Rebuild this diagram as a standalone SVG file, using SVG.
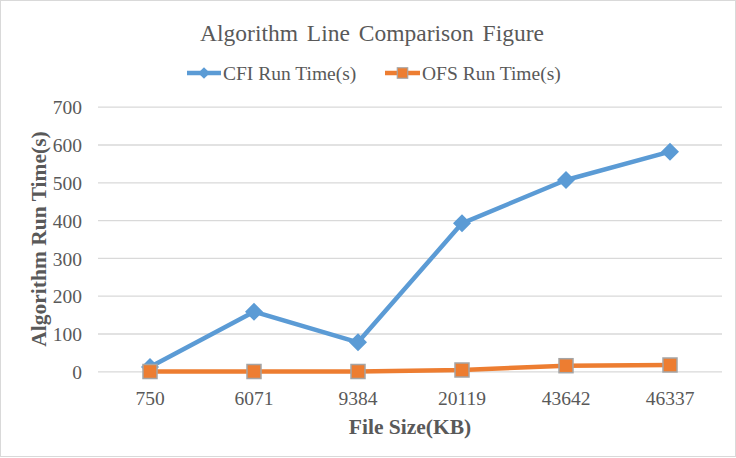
<svg xmlns="http://www.w3.org/2000/svg" width="736" height="458" viewBox="0 0 736 458">
<style>
.t{font-family:"Liberation Serif","Times New Roman",serif;fill:#595959}
.tick{font-size:19.5px}
.grid{stroke:#d9d9d9;stroke-width:1.3}
.cfi{fill:none;stroke:#5b9bd5;stroke-width:4.5;stroke-linejoin:round}
.ofs{fill:none;stroke:#ed7d31;stroke-width:4.5;stroke-linejoin:round}
.dia{fill:#5b9bd5}
.sq{fill:#ed7d31;stroke:#a5a5a5;stroke-width:1.5}
</style>
<defs>
<polygon id="d" class="dia" points="0,-9 9,0 0,9 -9,0"/>
<rect id="s" class="sq" x="-7" y="-7" width="14" height="14"/>
</defs>
<rect x="0.5" y="0.5" width="735" height="456" fill="#fff" stroke="#d9d9d9"/>
<text class="t" x="372" y="41" font-size="23.5" text-anchor="middle" word-spacing="3">Algorithm Line Comparison Figure</text>
<g id="legend">
<line x1="187" y1="73" x2="221" y2="73" stroke="#5b9bd5" stroke-width="4.5"/>
<use href="#d" transform="translate(204,73) scale(0.65)"/>
<text class="t tick" x="223" y="80">CFI Run Time(s)</text>
<line x1="385" y1="73" x2="420" y2="73" stroke="#ed7d31" stroke-width="4.5"/>
<use href="#s" transform="translate(402.5,73) scale(0.75)"/>
<text class="t tick" x="422" y="80">OFS Run Time(s)</text>
</g>
<g id="grid">
<line class="grid" x1="98" y1="107.2" x2="722" y2="107.2"/>
<line class="grid" x1="98" y1="145" x2="722" y2="145"/>
<line class="grid" x1="98" y1="182.8" x2="722" y2="182.8"/>
<line class="grid" x1="98" y1="220.6" x2="722" y2="220.6"/>
<line class="grid" x1="98" y1="258.4" x2="722" y2="258.4"/>
<line class="grid" x1="98" y1="296.2" x2="722" y2="296.2"/>
<line class="grid" x1="98" y1="334" x2="722" y2="334"/>
<line class="grid" x1="98" y1="371.8" x2="722" y2="371.8"/>
</g>
<g id="yaxis" class="t tick" text-anchor="end">
<text x="82" y="114">700</text>
<text x="82" y="152">600</text>
<text x="82" y="190">500</text>
<text x="82" y="227.5">400</text>
<text x="82" y="265.5">300</text>
<text x="82" y="303">200</text>
<text x="82" y="341">100</text>
<text x="82" y="379">0</text>
</g>
<text class="t" font-size="21.5" font-weight="bold" text-anchor="middle" transform="translate(46,239) rotate(-90)">Algorithm Run Time(s)</text>
<g id="xaxis" class="t tick" text-anchor="middle">
<text x="150" y="405">750</text>
<text x="254" y="405">6071</text>
<text x="358" y="405">9384</text>
<text x="462" y="405">20119</text>
<text x="566" y="405">43642</text>
<text x="670" y="405">46337</text>
</g>
<text class="t" x="410" y="434" font-size="21.5" font-weight="bold" text-anchor="middle">File Size(KB)</text>
<g id="connectors">
<polyline class="cfi" points="150,367 254,311.7 358,342.3 462,223.3 566,180 670,151.7"/>
<polyline class="ofs" points="150,371.5 254,371.5 358,371.5 462,370 566,365.7 670,365"/>
</g>
<g id="cfi-markers">
<use href="#d" x="150" y="367"/>
<use href="#d" x="254" y="311.7"/>
<use href="#d" x="358" y="342.3"/>
<use href="#d" x="462" y="223.3"/>
<use href="#d" x="566" y="180"/>
<use href="#d" x="670" y="151.7"/>
</g>
<g id="ofs-markers">
<use href="#s" x="150" y="371.5"/>
<use href="#s" x="254" y="371.5"/>
<use href="#s" x="358" y="371.5"/>
<use href="#s" x="462" y="370"/>
<use href="#s" x="566" y="365.7"/>
<use href="#s" x="670" y="365"/>
</g>
</svg>
